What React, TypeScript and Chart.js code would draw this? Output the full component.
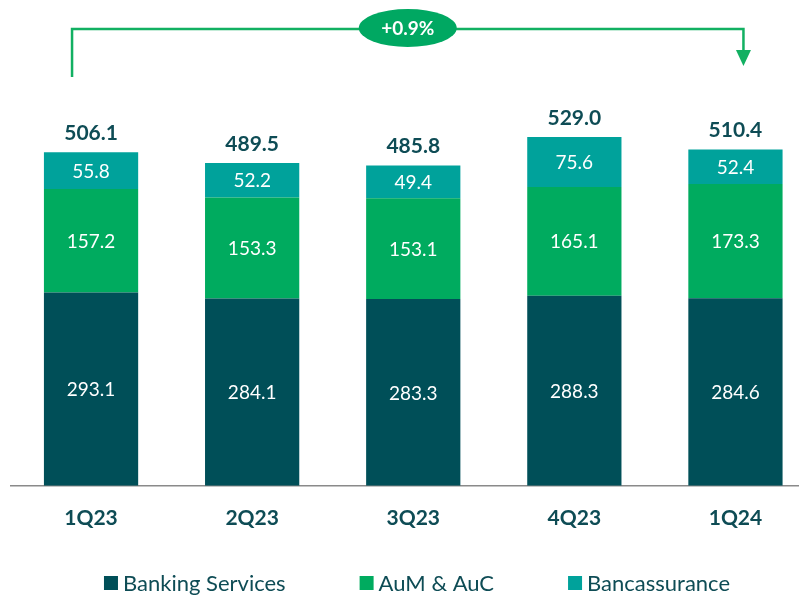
import React, { useEffect, useRef } from "react";
import { Chart, registerables } from "chart.js";

Chart.register(...registerables);

const categories = ["1Q23", "2Q23", "3Q23", "4Q23", "1Q24"];
const bankingServices = [293.1, 284.1, 283.3, 288.3, 284.6];
const aumAuc = [157.2, 153.3, 153.1, 165.1, 173.3];
const bancassurance = [55.8, 52.2, 49.4, 75.6, 52.4];
const totals = [506.1, 489.5, 485.8, 529.0, 510.4];
const seriesNames = ["Banking Services", "AuM & AuC", "Bancassurance"];
const changeLabel = "+0.9%";

const DARK = "#004F58";
const GREEN = "#00AB5F";
const TEAL = "#00A29B";
const TEXT = "#0E4C55";
const ARROW = "#12B062";
const FONT = "Lato, 'Open Sans', sans-serif";

const labelsPlugin = {
  id: "labelsPlugin",
  afterDatasetsDraw(chart: any) {
    const ctx = chart.ctx;
    ctx.save();
    ctx.textAlign = "center";
    ctx.textBaseline = "middle";
    ctx.fillStyle = "#ffffff";
    ctx.font = `19px ${FONT}`;
    chart.data.datasets.forEach((ds: any, di: number) => {
      const meta = chart.getDatasetMeta(di);
      meta.data.forEach((el: any, i: number) => {
        const v = ds.data[i];
        ctx.fillText(v.toFixed(1), el.x, (el.y + el.base) / 2 + 1);
      });
    });
    const topMeta = chart.getDatasetMeta(chart.data.datasets.length - 1);
    ctx.fillStyle = TEXT;
    ctx.font = `bold 21px ${FONT}`;
    topMeta.data.forEach((el: any, i: number) => {
      ctx.fillText(totals[i].toFixed(1), el.x, el.y - 19);
    });
    ctx.restore();
  },
};

const annotationPlugin = {
  id: "annotationPlugin",
  afterDraw(chart: any) {
    const ctx = chart.ctx;
    const xs = chart.scales.x;
    const x1 = xs.getPixelForValue(0) - 19;
    const x2 = xs.getPixelForValue(categories.length - 1) + 8;
    const yLine = 29;
    ctx.save();
    ctx.strokeStyle = ARROW;
    ctx.fillStyle = ARROW;
    ctx.lineWidth = 2.5;
    ctx.beginPath();
    ctx.moveTo(x1, 77);
    ctx.lineTo(x1, yLine);
    ctx.lineTo(x2, yLine);
    ctx.lineTo(x2, 52);
    ctx.stroke();
    ctx.beginPath();
    ctx.moveTo(x2 - 7.5, 50);
    ctx.lineTo(x2 + 7.5, 50);
    ctx.lineTo(x2, 66);
    ctx.closePath();
    ctx.fill();
    const cx = (x1 + x2) / 2;
    ctx.beginPath();
    ctx.ellipse(cx, yLine - 1, 49, 19, 0, 0, Math.PI * 2);
    ctx.fillStyle = "#00A862";
    ctx.fill();
    ctx.fillStyle = "#ffffff";
    ctx.font = `bold 19px ${FONT}`;
    ctx.textAlign = "center";
    ctx.textBaseline = "middle";
    ctx.fillText(changeLabel, cx, yLine);
    ctx.restore();
  },
};

const legendPlugin = {
  id: "customLegend",
  afterDraw(chart: any) {
    const ctx = chart.ctx;
    ctx.save();
    ctx.font = `22px ${FONT}`;
    ctx.textBaseline = "middle";
    ctx.textAlign = "left";
    const box = 14;
    const gapBoxText = 5;
    const gapItems = 74;
    const colors = chart.data.datasets.map((d: any) => d.backgroundColor);
    const widths = seriesNames.map((n) => box + gapBoxText + ctx.measureText(n).width);
    const total = widths.reduce((a, b) => a + b, 0) + gapItems * (seriesNames.length - 1);
    let x = 417 - total / 2;
    const y = 583;
    seriesNames.forEach((n, i) => {
      ctx.fillStyle = colors[i];
      ctx.fillRect(x, y - box / 2, box, box);
      ctx.fillStyle = TEXT;
      ctx.fillText(n, x + box + gapBoxText, y + 1);
      x += widths[i] + gapItems;
    });
    ctx.restore();
  },
};

export default function App() {
  const ref = useRef<HTMLCanvasElement>(null);
  useEffect(() => {
    if (!ref.current) return;
    const chart = new Chart(ref.current, {
      type: "bar",
      data: {
        labels: categories,
        datasets: [
          { label: seriesNames[0], data: bankingServices, backgroundColor: DARK },
          { label: seriesNames[1], data: aumAuc, backgroundColor: GREEN },
          { label: seriesNames[2], data: bancassurance, backgroundColor: TEAL },
        ],
      },
      options: {
        responsive: false,
        animation: false,
        layout: { padding: { left: 10.5, right: 0, top: 0, bottom: 46 } },
        datasets: { bar: { categoryPercentage: 1, barPercentage: 0.585 } } as any,
        plugins: {
          legend: { display: false },
          tooltip: { enabled: false },
        },
        scales: {
          x: {
            stacked: true,
            grid: { display: false, drawTicks: false },
            border: { display: true, color: "#8a8a8a", width: 1.5 },
            ticks: { color: TEXT, font: { family: FONT, size: 21, weight: "bold" }, padding: 20 },
          },
          y: {
            stacked: true,
            display: false,
            min: 0,
            max: 737,
          },
        },
      },
      plugins: [labelsPlugin, annotationPlugin, legendPlugin],
    });
    return () => chart.destroy();
  }, []);
  return (
    <div style={{ position: "fixed", left: 0, top: 0, width: 799, height: 597, overflow: "hidden", background: "#fff" }}>
      <canvas ref={ref} width={816} height={597} style={{ display: "block" }} />
    </div>
  );
}
